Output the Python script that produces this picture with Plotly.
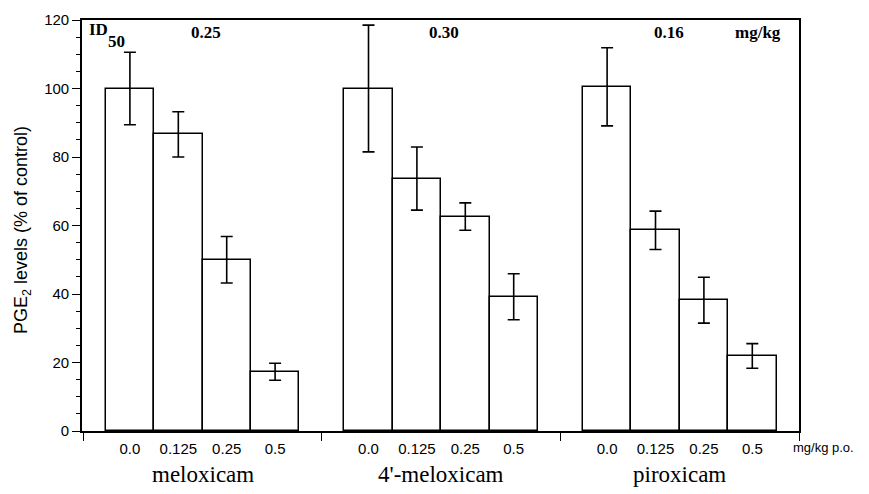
import plotly.graph_objects as go

drugs = ["meloxicam", "4'-meloxicam", "piroxicam"]
doses = ["0.0", "0.125", "0.25", "0.5"]
id50 = ["0.25", "0.30", "0.16"]
meloxicam = [100.0, 86.6, 50.0, 17.3]
meloxicam_err = [10.6, 6.6, 6.8, 2.5]
meloxicam4 = [100.0, 73.7, 62.6, 39.2]
meloxicam4_err = [18.5, 9.2, 4.0, 6.7]
piroxicam = [100.5, 58.6, 38.2, 21.9]
piroxicam_err = [11.4, 5.6, 6.7, 3.6]

values = [meloxicam, meloxicam4, piroxicam]
errors = [meloxicam_err, meloxicam4_err, piroxicam_err]

STEP = 4.93  # group spacing in bar widths
SERIF = "Liberation Serif, Times New Roman, serif"
SANS = "Liberation Sans, Arial, sans-serif"
ID50_SHIFT = [3, 3, -11]  # px nudges of the ID50 labels

# page has an 8px body margin; compensate so the plot lands where the reference is
OFF = 8
W, H = 869 - OFF, 494 - OFF
L, T, R, B = 82 - OFF, 20 - OFF, 70, 63
PW, PH = W - L - R, H - T - B  # plot area size (717 x 411)


def px_x(px):
    return (px - 82) / PW


def px_y(py):
    return (431 - py) / PH


fig = go.Figure()
xs, ys, es, labels = [], [], [], []
for g in range(len(drugs)):
    for i in range(len(doses)):
        xs.append(g * STEP + i)
        ys.append(values[g][i])
        es.append(errors[g][i])
        labels.append(doses[i])

fig.add_trace(go.Bar(
    x=xs, y=ys, width=1.0,
    marker=dict(color="white", line=dict(color="black", width=1.5)),
    error_y=dict(type="data", array=es, visible=True, color="black",
                 thickness=1.6, width=6),
    showlegend=False,
))

boundaries = [g * STEP - 0.965 for g in range(len(drugs) + 1)]

fig.update_layout(
    width=W, height=H,
    margin=dict(l=L, r=R, t=T, b=B, autoexpand=False),
    plot_bgcolor="white", paper_bgcolor="white",
    bargap=0,
    xaxis=dict(
        range=[-0.99, (len(drugs) - 1) * STEP + 3 + 0.965],
        tickmode="array", tickvals=xs, ticktext=labels,
        ticks="", showgrid=False, zeroline=False, ticklabelstandoff=3,
        showline=True, linecolor="black", linewidth=1.6, mirror=True,
        tickfont=dict(family=SANS, size=15, color="black"),
        minor=dict(tickmode="array", tickvals=boundaries, ticks="outside",
                   ticklen=8, tickwidth=1.3, tickcolor="black", showgrid=False),
    ),
    yaxis=dict(
        range=[0, 120], tickmode="linear", tick0=0, dtick=20,
        ticks="outside", ticklen=8, tickwidth=1.3, tickcolor="black",
        showgrid=False, zeroline=False,
        showline=True, linecolor="black", linewidth=1.6, mirror=True,
        tickfont=dict(family=SANS, size=15, color="black"),
        minor=dict(dtick=5, ticks="outside", ticklen=4, tickwidth=1,
                   tickcolor="black", showgrid=False),
    ),
)

annotations = []
# y-axis title
annotations.append(dict(
    text="PGE<sub>2</sub> levels (% of control)", textangle=-90,
    xref="paper", yref="paper", x=px_x(22), y=px_y(230),
    xanchor="center", yanchor="middle", showarrow=False,
    font=dict(family=SANS, size=18, color="black")))
# drug labels and ID50 values
for g, d in enumerate(drugs):
    annotations.append(dict(
        text=d, xref="x", yref="paper", x=g * STEP + 1.5, y=px_y(474),
        xanchor="center", yanchor="middle", showarrow=False,
        font=dict(family=SERIF, size=23, color="black")))
    annotations.append(dict(
        text="<b>%s</b>" % id50[g], xref="x", yref="paper",
        x=g * STEP + 1.5, y=px_y(33), xshift=ID50_SHIFT[g],
        xanchor="center", yanchor="middle", showarrow=False,
        font=dict(family=SERIF, size=17, color="black")))
annotations.append(dict(
    text="<b>ID</b>", xref="paper", yref="paper",
    x=px_x(87), y=px_y(30), xanchor="left", yanchor="middle",
    showarrow=False, font=dict(family=SERIF, size=17, color="black")))
annotations.append(dict(
    text="<b>50</b>", xref="paper", yref="paper",
    x=px_x(106), y=px_y(41), xanchor="left", yanchor="middle",
    showarrow=False, font=dict(family=SERIF, size=17, color="black")))
annotations.append(dict(
    text="<b>mg/kg</b>", xref="paper", yref="paper",
    x=px_x(758), y=px_y(33), xanchor="center", yanchor="middle",
    showarrow=False, font=dict(family=SERIF, size=17, color="black")))
annotations.append(dict(
    text="mg/kg p.o.", xref="paper", yref="paper",
    x=px_x(791), y=px_y(447), xanchor="left", yanchor="middle",
    showarrow=False, font=dict(family=SANS, size=13, color="black")))
fig.update_layout(annotations=annotations)

fig.write_html("out.html")
